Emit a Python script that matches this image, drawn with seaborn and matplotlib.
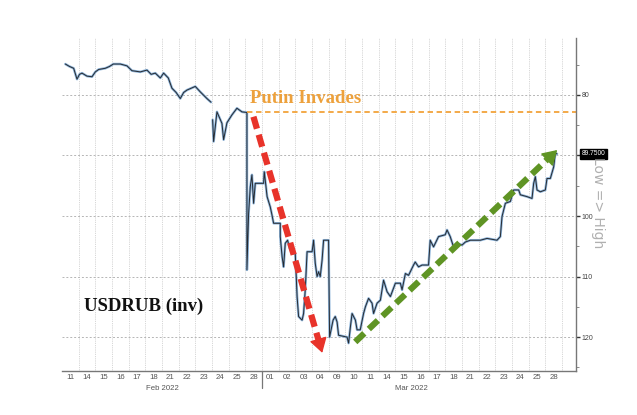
import numpy as np
import pandas as pd
import matplotlib
matplotlib.use("Agg")
import matplotlib.pyplot as plt
import matplotlib.transforms as mtransforms
import seaborn as sns

# ---------------- data ----------------
day_labels = ["11", "14", "15", "16", "17", "18", "21", "22", "23", "24", "25", "28",
              "01", "02", "03", "04", "09", "10", "11", "14", "15", "16", "17", "18",
              "21", "22", "23", "24", "25", "28"]
month_labels = ["Feb 2022", "Mar 2022"]
month_centers = [6.0, 21.0]
month_split = 12

# session index (fractional trading day) and USDRUB level
seg1_x = [0.20, 0.45, 0.70, 0.90, 1.05, 1.20, 1.50, 1.80, 2.00, 2.20, 2.60, 2.85, 3.08,
          3.50, 3.90, 4.20, 4.70, 5.10, 5.35, 5.60, 5.90, 6.10, 6.38, 6.60, 6.85,
          7.10, 7.30, 7.50, 8.00, 8.30, 8.70, 8.94]
seg1_v = [74.9, 75.3, 75.6, 77.4, 76.6, 76.4, 76.9, 77.0, 76.2, 75.8, 75.6, 75.3, 74.9,
          74.9, 75.2, 76.0, 76.2, 75.9, 76.6, 76.4, 77.2, 76.4, 77.2, 78.9, 79.6,
          80.6, 79.6, 79.2, 78.6, 79.5, 80.6, 81.2]

seg2_x = [9.04, 9.10, 9.30, 9.60, 9.70, 9.90, 10.20, 10.50, 10.80, 11.10, 11.10,
          11.20, 11.30, 11.40, 11.50, 11.60, 11.80, 12.10, 12.14, 12.20, 12.31, 12.50,
          12.60, 12.70, 13.10, 13.10, 13.21, 13.30, 13.40, 13.54, 13.66, 13.81, 14.00,
          14.11, 14.20, 14.41, 14.50, 14.60, 14.71, 15.01, 15.10, 15.20, 15.31, 15.40,
          15.50, 15.61, 15.70, 16.00, 16.06, 16.27, 16.40, 16.51, 16.60, 17.11, 17.20,
          17.31, 17.41, 17.61, 17.71, 17.90, 18.10, 18.21, 18.40, 18.61, 18.70, 18.91,
          19.11, 19.30, 19.51, 19.71, 20.01, 20.31, 20.41, 20.61, 20.80, 21.10, 21.20,
          21.40, 21.61, 22.00, 22.10, 22.30, 22.60, 23.00, 23.11, 23.30, 23.50, 23.71,
          24.01, 24.21, 24.51, 25.11, 25.51, 26.11, 26.31, 26.41, 26.61, 26.91, 27.11,
          27.41, 27.51, 27.91, 28.21, 28.31, 28.41, 28.51, 28.71, 29.01, 29.11, 29.31,
          29.51, 29.61, 29.71]
seg2_v = [84.1, 87.7, 82.8, 84.7, 87.4, 84.6, 83.3, 82.2, 82.8, 82.9, 108.9,
          99.6, 95.2, 93.2, 97.9, 94.6, 94.6, 94.6, 92.7, 94.1, 96.8, 98.5,
          99.8, 101.2, 101.2, 103.4, 106.7, 108.4, 104.5, 104.0, 105.3, 106.2, 106.2,
          113.3, 116.6, 117.2, 116.1, 112.2, 105.9, 105.9, 104.0, 107.8, 110.0, 109.2,
          110.0, 107.3, 104.0, 104.0, 120.0, 117.2, 116.6, 117.5, 119.7, 120.0, 121.0,
          118.3, 116.1, 117.2, 118.8, 118.8, 116.1, 115.0, 113.6, 114.4, 116.1, 114.4,
          113.9, 110.6, 112.5, 113.3, 111.1, 111.1, 112.2, 109.5, 109.8, 108.1, 107.6,
          108.4, 108.1, 108.1, 104.0, 105.1, 103.4, 103.1, 102.3, 103.4, 105.1, 104.5,
          104.8, 104.3, 104.0, 104.0, 103.7, 104.0, 103.4, 100.1, 97.9, 97.6, 95.7,
          95.7, 96.5, 96.8, 97.1, 94.6, 93.5, 95.7, 96.0, 95.7, 93.8, 93.8,
          91.9, 89.6, 89.75]

invasion_x = 11.10
invasion_level = 82.9
last_value = 89.75
down_arrow = [(11.49, 83.6), (15.62, 122.6)]
up_arrow = [(17.60, 120.8), (29.72, 89.1)]

yticks_major = [80, 90, 100, 110, 120]
yticks_labels = ["80", "", "100", "110", "120"]
yticks_minor = [75, 85, 95, 105, 115, 125]

# ---------------- style ----------------
sns.set_theme(style="white")
plt.rcParams["font.family"] = ["Liberation Sans", "DejaVu Sans"]

fig = plt.figure(figsize=(6.37, 4.15), dpi=100)
ax = fig.add_axes([62 / 637, 1 - 371 / 415, (576 - 62) / 637, (371 - 38) / 415])

df = pd.DataFrame({
    "x": seg1_x + seg2_x,
    "v": seg1_v + seg2_v,
    "seg": ["a"] * len(seg1_x) + ["b"] * len(seg2_x),
})

sns.lineplot(data=df, x="x", y="v", units="seg", estimator=None, sort=False,
             color="#8db4da", linewidth=1.8, ax=ax, legend=False)
sns.lineplot(data=df, x="x", y="v", units="seg", estimator=None, sort=False,
             color="#262a30", linewidth=0.7, ax=ax, legend=False)

xmax = 30.85
ax.set_xlim(0, xmax)
ax.set_ylim(125.6, 70.6)

# grid
ax.set_xticks(np.arange(len(day_labels)) + 0.5)
ax.set_xticklabels(day_labels, fontsize=5.6, color="#555555")
ax.set_xticks(np.arange(1, len(day_labels) + 1), minor=True)
ax.tick_params(axis="x", which="both", length=0, pad=2)
ax.grid(axis="x", which="minor", color="#c8c8c8", lw=0.6, ls=(0, (1, 1.2)))
ax.grid(axis="x", which="major", visible=False)

ax.yaxis.tick_right()
ax.set_yticks(yticks_major)
ax.set_yticklabels(yticks_labels, fontsize=5, color="#444444")
ax.set_yticks(yticks_minor, minor=True)
ax.tick_params(axis="y", which="major", length=3, width=1, color="#333333", pad=1)
ax.tick_params(axis="y", which="minor", length=2, width=0.6, color="#777777")
ax.grid(axis="y", which="major", color="#b5b5b5", lw=0.7, ls=(0, (2, 2)))
ax.set_xlabel("")
ax.set_ylabel("")

for s in ["top", "left"]:
    ax.spines[s].set_visible(False)
ax.spines["right"].set_color("#777777")
ax.spines["right"].set_linewidth(1.0)
ax.spines["bottom"].set_color("#777777")
ax.spines["bottom"].set_linewidth(1.0)

# month labels and separator
trans = mtransforms.blended_transform_factory(ax.transData, ax.transAxes)
for c, lab in zip(month_centers, month_labels):
    ax.text(c, -0.042, lab, transform=trans, ha="center", va="top",
            fontsize=5.6, color="#555555")
ax.plot([month_split, month_split], [0, -0.052], transform=trans, clip_on=False,
        color="#777777", lw=0.9)

# invasion line and label
ax.plot([invasion_x, xmax], [invasion_level, invasion_level], color="#f2a33a",
        lw=1.3, ls=(0, (3, 2)))
ax.text(11.3, invasion_level - 0.9, "Putin Invades", fontsize=13.5,
        fontweight="bold", family="Liberation Serif", color="#eda13c",
        ha="left", va="bottom")

ax.text(1.3, 114.9, "USDRUB (inv)", fontsize=13.5, fontweight="bold",
        family="Liberation Serif", color="#111111", ha="left", va="center")

# arrows
def dashed_arrow(p0, p1, color):
    (x0, y0), (x1, y1) = p0, p1
    f = 0.95
    xm, ym = x0 + (x1 - x0) * f, y0 + (y1 - y0) * f
    ax.plot([x0, xm], [y0, ym], color=color, lw=4.5, dashes=(2.0, 1.0),
            solid_capstyle="butt", dash_capstyle="butt")
    ax.annotate("", xy=(x1, y1), xytext=(xm, ym),
                arrowprops=dict(arrowstyle="-|>,head_length=0.9,head_width=0.55",
                                color=color, lw=1, shrinkA=0, shrinkB=0,
                                mutation_scale=10))

dashed_arrow(down_arrow[0], down_arrow[1], "#e8332a")
dashed_arrow(up_arrow[0], up_arrow[1], "#5f9424")

# last value tag
ax.annotate(f"{last_value:.4f}", xy=(1.0, last_value),
            xycoords=("axes fraction", "data"), xytext=(4, 0),
            textcoords="offset points", fontsize=4.8, color="white",
            ha="left", va="center",
            bbox=dict(boxstyle="square,pad=0.2", fc="black", ec="black"))

fig.text(598 / 637, 1 - 203 / 415, "Low => High", rotation=270, fontsize=10,
         family="DejaVu Sans", color="#b0b0b0", ha="center", va="center")

fig.savefig("out.png", dpi=100, facecolor="white")
